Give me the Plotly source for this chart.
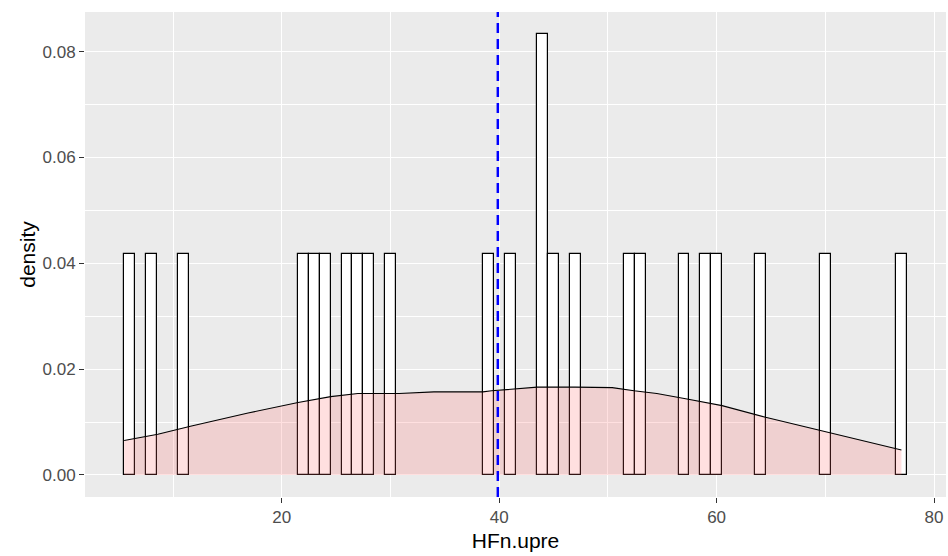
import numpy as np
import plotly.graph_objects as go

# Observed values of HFn.upre (n = 24)
hfn_upre = [6, 8, 11, 22, 23, 24, 26, 27, 28, 30, 39, 41, 44, 44,
            45, 47, 52, 53, 57, 59, 60, 64, 70, 77]

# Kernel density estimate of HFn.upre, sampled along x
dens_x = [5.5, 8.6, 11.6, 16.9, 21.5, 24.5, 27.0, 30.8, 34.0, 38.5, 39.3,
          41.4, 43.5, 47.0, 50.4, 52.4, 54.5, 57.4, 60.5, 64.5, 69.7, 73.6,
          77.0]
dens_y = [0.0065, 0.0077, 0.0092, 0.0117, 0.0137, 0.0148, 0.0154, 0.0154,
          0.0157, 0.0157, 0.0159, 0.0163, 0.0166, 0.0166, 0.0165, 0.0159,
          0.0154, 0.0143, 0.0131, 0.0109, 0.0083, 0.0064, 0.0047]

x_ticks = [20, 40, 60, 80]
y_ticks = [0.00, 0.02, 0.04, 0.06, 0.08]

mean_val = float(np.mean(hfn_upre))

fig = go.Figure()

# Histogram, binwidth 1, scaled to density
fig.add_trace(go.Histogram(
    x=hfn_upre,
    xbins=dict(start=4.5, end=78.5, size=1),
    histnorm="probability density",
    marker=dict(color="white", line=dict(color="black", width=1.2)),
    showlegend=False,
))

# Density curve with translucent fill
fig.add_trace(go.Scatter(
    x=dens_x, y=dens_y,
    mode="lines",
    line=dict(color="black", width=1.1),
    fill="tozeroy",
    fillcolor="rgba(255,102,102,0.2)",
    showlegend=False,
))

# Mean line
fig.add_shape(
    type="line", x0=mean_val, x1=mean_val, y0=0, y1=1,
    xref="x", yref="paper",
    line=dict(color="blue", width=2.5, dash="10px,6px"),
)

font_family = "Liberation Sans, Arial, sans-serif"

fig.update_layout(
    width=948, height=556,
    margin=dict(l=85, r=2, t=12, b=59),
    paper_bgcolor="white",
    plot_bgcolor="#EBEBEB",
    bargap=0,
    font=dict(family=font_family, color="#4D4D4D"),
    xaxis=dict(
        range=[1.9, 81.1],
        tickvals=x_ticks,
        ticktext=[str(v) for v in x_ticks],
        ticks="outside", ticklen=5, tickwidth=1, tickcolor="#333333",
        tickfont=dict(size=17, color="#4D4D4D"),
        showgrid=True, gridcolor="white", gridwidth=1.4,
        minor=dict(dtick=10, tick0=0, showgrid=True, gridcolor="white",
                   gridwidth=0.7, ticks=""),
        zeroline=False, showline=False,
        title=dict(text="HFn.upre", font=dict(size=21, color="black"),
                   standoff=6),
    ),
    yaxis=dict(
        range=[-0.00417, 0.0875],
        tickvals=y_ticks,
        tickformat=".2f",
        ticks="outside", ticklen=5, tickwidth=1, tickcolor="#333333",
        tickfont=dict(size=17, color="#4D4D4D"),
        showgrid=True, gridcolor="white", gridwidth=1.4,
        minor=dict(dtick=0.01, tick0=0, showgrid=True, gridcolor="white",
                   gridwidth=0.7, ticks=""),
        zeroline=False, showline=False,
        title=dict(text="density", font=dict(size=21, color="black"),
                   standoff=1),
    ),
)

fig.write_html("out.html")
